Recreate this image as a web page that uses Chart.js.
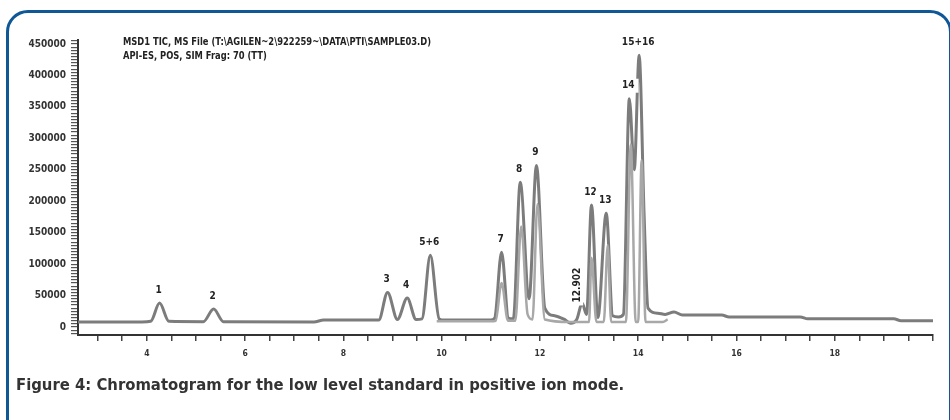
<!DOCTYPE html>
<html>
<head>
<meta charset="utf-8">
<script src="https://cdn.jsdelivr.net/npm/chart.js@4"></script>
<style>
  html, body { margin: 0; padding: 0; background: #fff; overflow: hidden; }
  #wrap { position: relative; width: 950px; height: 420px; overflow: hidden; }
  #frame {
    position: absolute; left: 6px; top: 10px; width: 946px; height: 440px;
    border: 3px solid #0f5796; border-radius: 22px; box-sizing: border-box;
  }
  #box { position: absolute; left: 0; top: 0; width: 950px; height: 420px; }
  .hdr {
    position: absolute; left: 123px; font: bold 10px 'Liberation Sans Narrow', 'DejaVu Sans Condensed', sans-serif;
    color: #222; white-space: nowrap; transform: scaleX(0.93); transform-origin: left center;
  }
  #caption {
    position: absolute; left: 16px; top: 375px;
    font: bold 16.5px 'Liberation Sans Narrow', 'DejaVu Sans Condensed', sans-serif;
    color: #333; white-space: nowrap;
  }
</style>
</head>
<body>
<div id="wrap">
  <div id="frame"></div>
  <div id="box"><canvas id="chrom"></canvas></div>
  <div class="hdr" style="top:36px">MSD1 TIC, MS File (T:\AGILEN~2\922259~\DATA\PTI\SAMPLE03.D)</div>
  <div class="hdr" style="top:50px">API-ES, POS, SIM Frag: 70 (TT)</div>
  <div id="caption">Figure 4: Chromatogram for the low level standard in positive ion mode.</div>
</div>
<script>
// retention time (min) and abundance
const timesA = [2.6, 3.9, 4.08, 4.26, 4.45, 5.15, 5.36, 5.56, 7.4, 7.6, 8.72, 8.9, 9.1, 9.3, 9.48, 9.6, 9.77, 9.95, 10.05,
  11.0, 11.08, 11.22, 11.36, 11.46, 11.6, 11.78, 11.93, 12.1, 12.3, 12.5, 12.62, 12.75, 12.86, 12.95, 13.05, 13.18,
  13.35, 13.48, 13.6, 13.7, 13.82, 13.92, 14.02, 14.12, 14.2, 14.4, 14.55, 14.73, 14.9, 15.7, 15.85, 17.3, 17.45,
  19.2, 19.35, 20.0];
const valuesA = [8000, 8000, 9000, 38000, 9000, 8500, 28500, 8500, 8000, 11000, 11000, 55000, 12000, 46000, 12000, 13000, 114000, 13000, 11000,
  11000, 14000, 119000, 14000, 13000, 230000, 45000, 257000, 30000, 18000, 12000, 6000, 12000, 38000, 20000, 194000, 15000,
  181000, 18000, 16000, 20000, 363000, 250000, 432000, 180000, 30000, 22000, 20000, 24000, 19000, 19000, 16000, 16000, 13000,
  13000, 10000, 10000];

const timesB = [9.9, 11.0, 11.1, 11.22, 11.35, 11.5, 11.62, 11.75, 11.85, 11.95, 12.1, 12.6, 13.0, 13.05, 13.15, 13.3,
  13.38, 13.45, 13.75, 13.85, 13.95, 14.0, 14.07, 14.15, 14.5, 14.6];
const valuesB = [9000, 9000, 10000, 70000, 10000, 10000, 160000, 20000, 12000, 195000, 12000, 8000, 8000, 110000, 8000, 8000,
  130000, 8000, 8000, 290000, 8000, 8000, 265000, 8000, 8000, 12000];

// peak annotations
const peakNames = ['1', '2', '3', '4', '5+6', '7', '8', '9', '12', '13', '14', '15+16'];
const peakTimes = [4.26, 5.36, 8.9, 9.3, 9.77, 11.22, 11.6, 11.93, 13.05, 13.35, 13.82, 14.02];
const peakHeights = [38000, 28500, 55000, 46000, 114000, 119000, 230000, 257000, 194000, 181000, 363000, 432000];
const rtLabel = '12.902';
const rtTime = 12.86;
const rtHeight = 38000;

const yTickStep = 5000;
const yLabelStep = 50000;
const xTickStep = 0.5;
const xLabelStep = 2;

const FONT = "'Liberation Sans Narrow', 'DejaVu Sans Condensed', sans-serif";

const toXY = (ts, vs) => ts.map((t, i) => ({ x: t, y: vs[i] }));
const isMultiple = (v, step) => Math.abs(v / step - Math.round(v / step)) < 1e-6;

// ticks on whole steps even when the axis ends between them
const stepTicks = step => scale => {
  const ticks = [];
  for (let v = Math.ceil(scale.min / step) * step; v <= scale.max + 1e-9; v += step) {
    ticks.push({ value: Math.round(v * 1000) / 1000 });
  }
  scale.ticks = ticks;
};

const peakLabels = {
  id: 'peakLabels',
  afterDatasetsDraw(chart) {
    const { ctx, scales: { x, y } } = chart;
    ctx.save();
    ctx.font = 'bold 10px ' + FONT;
    ctx.textAlign = 'center';
    ctx.textBaseline = 'middle';
    peakNames.forEach((name, i) => {
      const px = x.getPixelForValue(peakTimes[i]) - 1;
      const py = y.getPixelForValue(peakHeights[i]) - 13;
      const w = ctx.measureText(name).width + 8;
      ctx.fillStyle = '#fff';
      ctx.fillRect(px - w / 2, py - 7, w, 14);
      ctx.fillStyle = '#222';
      ctx.fillText(name, px, py);
    });
    // rotated retention time
    const rx = x.getPixelForValue(rtTime) - 5;
    const ry = y.getPixelForValue(rtHeight) - 18;
    ctx.translate(rx, ry);
    ctx.rotate(-Math.PI / 2);
    const w = ctx.measureText(rtLabel).width + 6;
    ctx.fillStyle = '#fff';
    ctx.fillRect(-w / 2, -6, w, 12);
    ctx.fillStyle = '#222';
    ctx.fillText(rtLabel, 0, 0);
    ctx.restore();
  }
};

new Chart(document.getElementById('chrom'), {
  type: 'line',
  data: {
    datasets: [
      { data: toXY(timesB, valuesB), borderColor: '#a8a8a8', borderWidth: 2.5 },
      { data: toXY(timesA, valuesA), borderColor: '#7c7c7c', borderWidth: 3 },
      { data: toXY(timesA, valuesA), borderColor: '#333', borderWidth: 1 }
    ]
  },
  options: {
    responsive: true,
    maintainAspectRatio: false,
    animation: false,
    layout: { padding: { top: 40, right: 17, left: 0, bottom: 0 } },
    elements: {
      point: { radius: 0 },
      line: { cubicInterpolationMode: 'monotone' }
    },
    plugins: { legend: { display: false }, tooltip: { enabled: false } },
    scales: {
      x: {
        type: 'linear',
        min: 2.6,
        max: 20,
        afterBuildTicks: stepTicks(xTickStep),
        afterFit: s => { s.height = 85; },
        border: { color: '#333', width: 2 },
        grid: { drawOnChartArea: false, tickLength: 6, color: '#444', lineWidth: 1.5 },
        ticks: {
          autoSkip: false,
          maxRotation: 0,
          padding: 8,
          color: '#333',
          font: { family: FONT, size: 8.5, weight: 'bold' },
          callback: v => (isMultiple(v, xLabelStep) && v < 20 ? String(v) : '')
        }
      },
      y: {
        min: -12720,
        max: 456360,
        afterBuildTicks: stepTicks(yTickStep),
        afterFit: s => { s.width = 78; },
        border: { color: '#333', width: 2 },
        grid: { drawOnChartArea: false, tickLength: 7, color: '#555', lineWidth: 1.2 },
        ticks: {
          autoSkip: false,
          padding: 5,
          color: '#333',
          font: { family: FONT, size: 10, weight: 'bold' },
          callback: v => (v >= 0 && isMultiple(v, yLabelStep) ? String(v) : '')
        }
      }
    }
  },
  plugins: [peakLabels]
});
</script>
</body>
</html>
